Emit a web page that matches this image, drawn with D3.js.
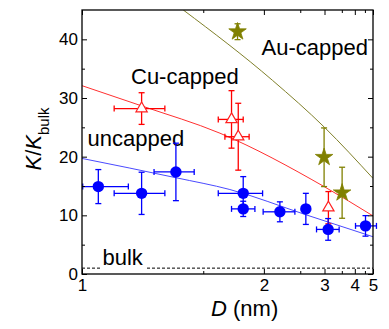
<!DOCTYPE html>
<html>
<head>
<meta charset="utf-8">
<script src="https://cdn.jsdelivr.net/npm/d3@7"></script>
<style>
body { margin: 0; background: #fff; }
text { font-family: "Liberation Sans", Arial, sans-serif; fill: #000; }
</style>
</head>
<body>
<div id="chart"></div>
<script>
// uncapped (blue circles)
const uncapD    = [1.047, 1.196, 1.348, 1.796, 1.796, 2.193, 2.6, 3.093, 4.533];
const uncapK    = [14.9, 13.75, 17.4, 13.75, 11.1, 10.6, 11.1, 7.6, 8.2];
const uncapKErr = [2.9, 3.6, 4.9, 2.85, 1.3, 1.7, 2.65, 1.85, 1.75];
const uncapDLo  = [1.002, 1.097, 1.247, 1.599, 1.698, 1.992, null, 2.815, 4.031];
const uncapDHi  = [1.146, 1.295, 1.446, 1.986, 1.906, 2.411, null, 3.412, 5.25];

// Cu-capped (red open triangles)
const cuD    = [1.196, 1.698, 1.753, 3.1];
const cuK    = [28.2, 26.35, 23.4, 11.3];
const cuKErr = [2.7, 4.9, 5.7, 2.75];
const cuDLo  = [1.097, 1.599, 1.647, null];
const cuDHi  = [1.295, 1.796, 1.85, null];

// Au-capped (olive stars)
const auD    = [1.747, 2.99, 3.51];
const auK    = [41.3, 19.9, 13.85];
const auKErr = [1.35, 5.0, 4.35];

// fit curves
const uncapFitD = [1, 1.35, 1.685, 2.6, 5];
const uncapFitK = [19.7, 16.4, 14.4, 10.1, 6.35];
const cuFitD = [1, 1.2, 1.611, 2.99, 5];
const cuFitK = [32.1, 28.6, 24.0, 14.9, 9.9];
const auFitD = [1.386, 2.1, 3.0, 5];
const auFitK = [45, 33.0, 25.0, 16.3];

const bulkK = 1;

const xMajor = [1, 2, 3, 4, 5];
const xMinor = [1.5, 2.5, 3.5, 4.5];
const yMajor = [0, 10, 20, 30, 40];
const yMinor = [5, 15, 25, 35];

const width = 389, height = 329;
const margin = {top: 10, right: 16, bottom: 55, left: 82};

// the D axis is linear in 1/D
const inv = d3.scaleLinear().domain([1, 0.2]).range([margin.left, width - margin.right]);
const x = d => inv(1 / d);
const y = d3.scaleLinear().domain([0, 45]).range([height - margin.bottom, margin.top]);

const svg = d3.select('#chart').append('svg')
  .attr('width', width)
  .attr('height', height);

svg.append('clipPath').attr('id', 'plot-clip')
  .append('rect')
  .attr('x', margin.left).attr('y', margin.top)
  .attr('width', width - margin.left - margin.right)
  .attr('height', height - margin.top - margin.bottom);

// bulk dashed line
svg.append('line')
  .attr('x1', x(1)).attr('x2', x(5))
  .attr('y1', y(bulkK)).attr('y2', y(bulkK))
  .attr('stroke', '#000')
  .attr('stroke-width', 1)
  .attr('stroke-dasharray', '3,2');

// labels
const labels = svg.append('g');
const addLabel = (txt, lx, ly) => {
  const g = labels.append('g');
  const t = g.append('text').attr('x', lx).attr('y', ly)
    .style('font-size', '22px').text(txt);
  const bb = t.node().getBBox();
  g.insert('rect', 'text')
    .attr('x', bb.x - 2).attr('y', bb.y + 4)
    .attr('width', bb.width + 4).attr('height', bb.height - 4)
    .attr('fill', '#fff');
};
addLabel('bulk', 102.5, 265);

// fit curves
const line = d3.line().curve(d3.curveMonotoneX);
const fits = svg.append('g').attr('clip-path', 'url(#plot-clip)');
const addFit = (ds, ks, color) => {
  fits.append('path')
    .attr('d', line(ds.map((d, i) => [x(d), y(ks[i])])))
    .attr('fill', 'none')
    .attr('stroke', color)
    .attr('stroke-width', 1);
};
addFit(uncapFitD, uncapFitK, '#4a4aff');
addFit(cuFitD, cuFitK, '#ff3030');
addFit(auFitD, auFitK, '#80802a');

addLabel('Au-capped', 261.5, 55);
addLabel('Cu-capped', 131, 83.5);
addLabel('uncapped', 87.5, 146);

// error bars
const cap = 3;
const addErrors = (ds, ks, kerr, dlo, dhi, color) => {
  const g = svg.append('g')
    .attr('stroke', color)
    .attr('stroke-width', 1.3)
    .attr('fill', 'none');
  ds.forEach((d, i) => {
    const cx = x(d), cy = y(ks[i]);
    const y0 = y(ks[i] - kerr[i]), y1 = y(ks[i] + kerr[i]);
    g.append('line').attr('x1', cx).attr('x2', cx).attr('y1', y0).attr('y2', y1);
    g.append('line').attr('x1', cx - cap).attr('x2', cx + cap).attr('y1', y0).attr('y2', y0);
    g.append('line').attr('x1', cx - cap).attr('x2', cx + cap).attr('y1', y1).attr('y2', y1);
    if (dlo && dlo[i] != null) {
      const x0 = x(dlo[i]), x1 = x(dhi[i]);
      g.append('line').attr('x1', x0).attr('x2', x1).attr('y1', cy).attr('y2', cy);
      g.append('line').attr('x1', x0).attr('x2', x0).attr('y1', cy - cap).attr('y2', cy + cap);
      g.append('line').attr('x1', x1).attr('x2', x1).attr('y1', cy - cap).attr('y2', cy + cap);
    }
  });
};
addErrors(cuD, cuK, cuKErr, cuDLo, cuDHi, '#ff0000');
addErrors(auD, auK, auKErr, null, null, '#808000');
addErrors(uncapD, uncapK, uncapKErr, uncapDLo, uncapDHi, '#0000ff');

// markers
svg.append('g').selectAll('path')
  .data(cuD)
  .join('path')
  .attr('transform', (d, i) => `translate(${x(d)},${y(cuK[i])})`)
  .attr('d', d3.symbol(d3.symbolTriangle).size(55)())
  .attr('fill', '#fff')
  .attr('stroke', '#ff2020')
  .attr('stroke-width', 1.2);

svg.append('g').selectAll('path')
  .data(auD)
  .join('path')
  .attr('transform', (d, i) => `translate(${x(d)},${y(auK[i])})`)
  .attr('d', d3.symbol(d3.symbolStar).size(95)())
  .attr('fill', '#808000')
  .attr('stroke', '#808000')
  .attr('stroke-width', 0.8);

svg.append('g').selectAll('circle')
  .data(uncapD)
  .join('circle')
  .attr('cx', d => x(d))
  .attr('cy', (d, i) => y(uncapK[i]))
  .attr('r', 5.7)
  .attr('fill', '#0000ff');

// axes
const axisG = svg.append('g');
const styleAxis = g => {
  g.attr('font-size', null).attr('font-family', null);
  g.select('.domain').remove();
  g.selectAll('line').attr('stroke', '#000').attr('stroke-width', 1);
  g.selectAll('text')
    .style('font-family', '"Liberation Sans", Arial, sans-serif')
    .style('font-size', '17px')
    .attr('fill', '#000');
};

axisG.append('g')
  .attr('transform', `translate(0,${y(0)})`)
  .call(d3.axisBottom(inv).tickValues(xMajor.map(d => 1 / d)).tickFormat(d => d3.format('d')(Math.round(1 / d)))
    .tickSizeInner(-5).tickSizeOuter(0).tickPadding(5))
  .call(styleAxis);
axisG.append('g')
  .attr('transform', `translate(0,${y(0)})`)
  .call(d3.axisBottom(inv).tickValues(xMinor.map(d => 1 / d)).tickFormat('').tickSizeInner(-3).tickSizeOuter(0))
  .call(styleAxis);
axisG.append('g')
  .attr('transform', `translate(0,${y(45)})`)
  .call(d3.axisTop(inv).tickValues(xMajor.map(d => 1 / d)).tickFormat('').tickSizeInner(-5).tickSizeOuter(0))
  .call(styleAxis);
axisG.append('g')
  .attr('transform', `translate(0,${y(45)})`)
  .call(d3.axisTop(inv).tickValues(xMinor.map(d => 1 / d)).tickFormat('').tickSizeInner(-3).tickSizeOuter(0))
  .call(styleAxis);

axisG.append('g')
  .attr('transform', `translate(${margin.left},0)`)
  .call(d3.axisLeft(y).tickValues(yMajor).tickSizeInner(-5).tickSizeOuter(0).tickPadding(4))
  .call(styleAxis);
axisG.append('g')
  .attr('transform', `translate(${margin.left},0)`)
  .call(d3.axisLeft(y).tickValues(yMinor).tickFormat('').tickSizeInner(-3).tickSizeOuter(0))
  .call(styleAxis);
axisG.append('g')
  .attr('transform', `translate(${width - margin.right},0)`)
  .call(d3.axisRight(y).tickValues(yMajor).tickFormat('').tickSizeInner(-5).tickSizeOuter(0))
  .call(styleAxis);
axisG.append('g')
  .attr('transform', `translate(${width - margin.right},0)`)
  .call(d3.axisRight(y).tickValues(yMinor).tickFormat('').tickSizeInner(-3).tickSizeOuter(0))
  .call(styleAxis);

// frame
svg.append('rect')
  .attr('x', margin.left).attr('y', margin.top)
  .attr('width', width - margin.left - margin.right)
  .attr('height', height - margin.top - margin.bottom)
  .attr('fill', 'none')
  .attr('stroke', '#000')
  .attr('stroke-width', 1.3);

// axis titles
const xt = svg.append('text')
  .attr('x', 211)
  .attr('y', 315.5)
  .style('font-size', '22px');
xt.append('tspan').style('font-style', 'italic').text('D');
xt.append('tspan').text(' (nm)');

const yt = svg.append('text')
  .attr('transform', 'translate(41,139) rotate(-90)')
  .attr('text-anchor', 'middle')
  .style('font-size', '22px');
yt.append('tspan').style('font-style', 'italic').text('K');
yt.append('tspan').text('/');
yt.append('tspan').style('font-style', 'italic').text('K');
yt.append('tspan').attr('dy', 8).style('font-size', '15px').text('bulk');
</script>
</body>
</html>
